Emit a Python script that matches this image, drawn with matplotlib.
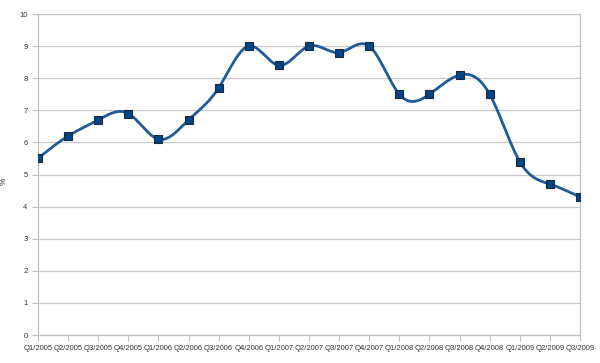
import matplotlib
matplotlib.use('Agg')
import matplotlib.pyplot as plt
import numpy as np

plt.rcParams['font.family'] = ['Liberation Sans', 'DejaVu Sans']

# quarters and the rate in %
quarters = ['Q1/2005', 'Q2/2005', 'Q3/2005', 'Q4/2005', 'Q1/2006', 'Q2/2006', 'Q3/2006',
            'Q4/2006', 'Q1/2007', 'Q2/2007', 'Q3/2007', 'Q4/2007', 'Q1/2008', 'Q2/2008',
            'Q3/2008', 'Q4/2008', 'Q1/2009', 'Q2/2009', 'Q3/2009']
rate = [5.5, 6.2, 6.7, 6.9, 6.1, 6.7, 7.7, 9.0, 8.4, 9.0, 8.8, 9.0, 7.5, 7.5, 8.1, 7.5, 5.4, 4.7, 4.3]
yticks = [0, 1, 2, 3, 4, 5, 6, 7, 8, 9, 10]


def natural_spline(x, y, xs):
    # plain natural cubic spline, only used to draw the smooth line
    x = np.asarray(x, float)
    y = np.asarray(y, float)
    n = len(x)
    h = np.diff(x)
    A = np.zeros((n, n))
    b = np.zeros(n)
    A[0, 0] = 1
    A[-1, -1] = 1
    for i in range(1, n - 1):
        A[i, i - 1] = h[i - 1]
        A[i, i] = 2 * (h[i - 1] + h[i])
        A[i, i + 1] = h[i]
        b[i] = 3 * ((y[i + 1] - y[i]) / h[i] - (y[i] - y[i - 1]) / h[i - 1])
    c = np.linalg.solve(A, b)
    out = np.empty_like(xs)
    for k, t in enumerate(xs):
        i = min(max(np.searchsorted(x, t) - 1, 0), n - 2)
        dx = t - x[i]
        bi = (y[i + 1] - y[i]) / h[i] - h[i] * (2 * c[i] + c[i + 1]) / 3
        di = (c[i + 1] - c[i]) / (3 * h[i])
        out[k] = y[i] + bi * dx + c[i] * dx ** 2 + di * dx ** 3
    return out


x = np.arange(len(quarters))
xs = np.linspace(0, len(quarters) - 1, 800)
ys = natural_spline(x, rate, xs)

fig = plt.figure(figsize=(6, 3.63), dpi=100)
ax = fig.add_axes([0.0633, 0.0771, 0.9034, 0.8843])

ax.plot(xs, ys, color='#1f5b98', linewidth=2, zorder=3)
ax.plot(x, rate, linestyle='none', marker='s', markersize=6, markerfacecolor='#004586',
        markeredgecolor='#1a2a3a', markeredgewidth=0.8, zorder=4)

ax.set_xlim(0, len(quarters) - 1)
ax.set_ylim(0, 10)
ax.set_yticks(yticks)
ax.set_xticks(x)
ax.set_xticklabels(quarters)
ax.grid(axis='y', color='#c8c8c8', linewidth=0.9)
ax.set_axisbelow(True)

for s in ['top', 'right', 'left', 'bottom']:
    ax.spines[s].set_color('#c0c0c0')
    ax.spines[s].set_linewidth(0.9)

ax.tick_params(axis='both', labelsize=5.5, colors='#c0c0c0', labelcolor='#333333', length=4, width=0.8)
ax.tick_params(axis='x', pad=3)
ax.set_ylabel('%', fontsize=6, color='#333333', labelpad=12)
ax.yaxis.set_label_coords(-0.055, 0.48)

fig.savefig('out.png', dpi=100)
